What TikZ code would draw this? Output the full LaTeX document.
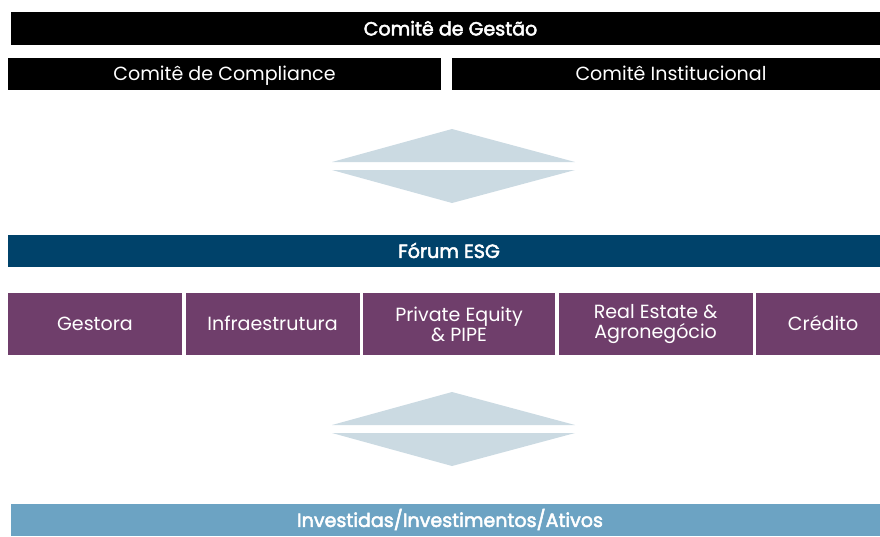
\documentclass[tikz,border=0pt]{standalone}
\usepackage{fontspec}
\setmainfont{Poppins}
\newfontfamily\medfont{Poppins}[FakeBold=2.6]
\usetikzlibrary{positioning}
\definecolor{forumblue}{RGB}{0, 66, 106}
\definecolor{areapurple}{RGB}{111, 62, 107}
\definecolor{arrowgray}{RGB}{203, 218, 226}
\definecolor{baseblue}{RGB}{108, 163, 195}

\begin{document}
\begin{tikzpicture}[x=0.75pt, y=-0.75pt, font=\fontsize{14.3}{15}\selectfont,
  bar/.style={inner sep=0pt, text=white, align=center, minimum height=#1*0.75pt},
  oneline/.style={text height=10.4pt, text depth=0pt},
  title/.style={oneline, font=\fontsize{14.3}{15}\selectfont\medfont},
  area/.style={bar=62, fill=areapurple}]
  \useasboundingbox (0,0) rectangle (880,536);
  % comites
  \node[bar=33, title, fill=black, minimum width=879*0.75pt] (gestao) at (450.5,28.5){Comitê de Gestão};
  \node[bar=32, oneline, fill=black, minimum width=433*0.75pt] (compliance) at (224.5,74){Comitê de Compliance};
  \node[bar=32, oneline, fill=black, minimum width=438*0.75pt] (institucional) at (671,74){Comitê Institucional};
  % setas
  \fill[arrowgray] (332,162) -- (452,129) -- (575,162) -- cycle;
  \fill[arrowgray] (332,170) -- (452,203) -- (575,170) -- cycle;
  \node[bar=32, title, fill=forumblue, minimum width=882*0.75pt] (forum) at (449,251){Fórum ESG};
  % areas
  \node[area, oneline, minimum width=174*0.75pt] (gestora) at (95,324){Gestora};
  \node[area, oneline, minimum width=174*0.75pt, right=2.25pt of gestora] (infra){Infraestrutura};
  \node[area, minimum width=192*0.75pt, right=2.25pt of infra] (private){Private Equity\\\& PIPE};
  \node[area, minimum width=194*0.75pt, right=2.25pt of private] (realestate){Real Estate \&\\Agronegócio};
  \node[area, oneline, minimum width=134*0.75pt, right=2.25pt of realestate] (credito){Crédito};
  % setas
  \fill[arrowgray] (332,425) -- (452,392) -- (575,425) -- cycle;
  \fill[arrowgray] (332,433) -- (452,466) -- (575,433) -- cycle;
  \node[bar=32, title, fill=baseblue, minimum width=878*0.75pt] (investidas) at (450,520){Investidas/Investimentos/Ativos};
\end{tikzpicture}
\end{document}
